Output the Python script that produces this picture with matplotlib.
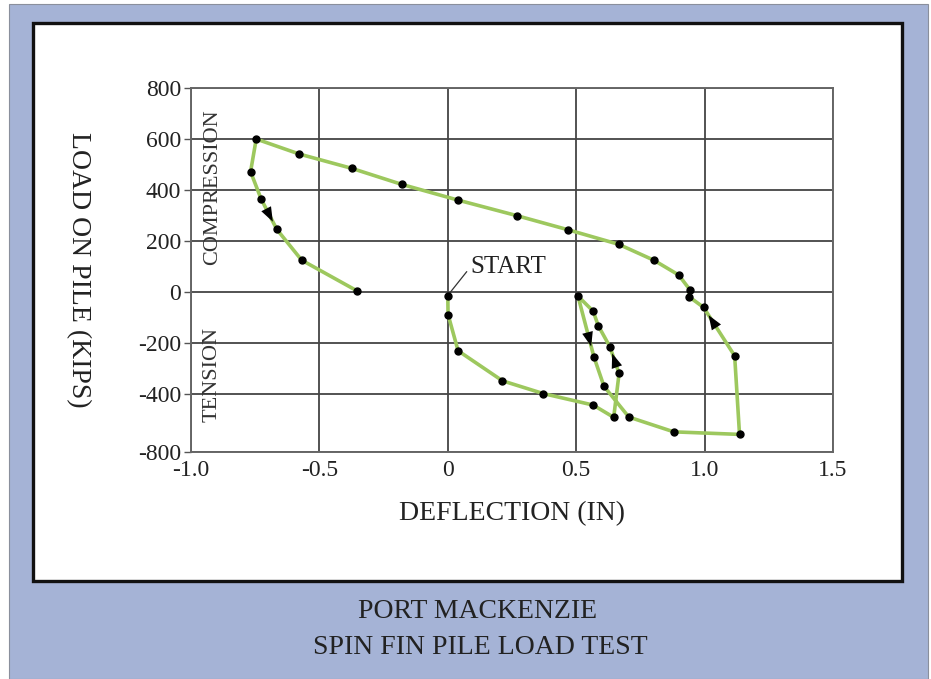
import matplotlib
matplotlib.use("Agg")
import matplotlib.pyplot as plt
from matplotlib.patches import Rectangle

# ---- data (deflection in inches, load in kips), in test order ----
deflection = [0.000, 0.001, 0.040, 0.213, 0.372, 0.566, 0.646, 0.667, 0.631, 0.586,
              0.566, 0.507, 0.569, 0.608, 0.705, 0.880, 1.136, 1.117, 0.996, 0.939,
              0.942, 0.899, 0.802, 0.666, 0.469, 0.271, 0.038, -0.179, -0.374, -0.578,
              -0.746, -0.768, -0.727, -0.666, -0.569, -0.354]
load = [-16, -88, -230, -348, -398, -443, -491, -319, -214, -132,
        -75, -16, -254, -369, -490, -548, -558, -250, -60, -18,
        10, 67, 125, 187, 244, 299, 361, 422, 485, 541,
        600, 472, 365, 246, 125, 5]

# direction arrows: (segment start index, tip fraction along segment)
arrow_segments = [(32, 0.75), (17, 0.84), (7, 0.75), (11, 0.83)]

x_ticks = [-1.0, -0.5, 0, 0.5, 1.0, 1.5]
x_tick_labels = ["-1.0", "-0.5", "0", "0.5", "1.0", "1.5"]
y_ticks = [800, 600, 400, 200, 0, -200, -400, -627]
y_tick_labels = ["800", "600", "400", "200", "0", "-200", "-400", "-800"]

title_lines = ["PORT MACKENZIE", "SPIN FIN PILE LOAD TEST"]

# ---- figure ----
W, H = 931, 679
fig = plt.figure(figsize=(W / 100, H / 100), dpi=100)
fig.patch.set_facecolor("white")
plt.rcParams["font.family"] = ["Liberation Serif", "DejaVu Serif"]

def fx(px):
    return px / W

def fy(py):
    return 1 - py / H

# blue background and white panel
fig.patches.append(Rectangle((fx(9), 0), fx(928) - fx(9), fy(4), transform=fig.transFigure,
                             facecolor="#a5b3d6", edgecolor="#8a8f9c", lw=0.8, zorder=0))
fig.patches.append(Rectangle((fx(33), fy(581)), fx(902) - fx(33), fy(23) - fy(581),
                             transform=fig.transFigure, facecolor="white",
                             edgecolor="#111111", lw=2.4, zorder=1))

ax = fig.add_axes([fx(191), fy(452), fx(833) - fx(191), fy(88) - fy(452)])
ax.set_zorder(2)
ax.set_facecolor("white")
ax.set_xlim(-1.0, 1.5)
ax.set_ylim(-627, 800)

ax.set_xticks(x_ticks)
ax.set_xticklabels(x_tick_labels)
ax.set_yticks(y_ticks)
ax.set_yticklabels(y_tick_labels)
ax.tick_params(axis="x", length=0, pad=6, labelsize=17, colors="#222222")
ax.tick_params(axis="y", length=5, width=1.0, pad=2, labelsize=17, colors="#555555",
               labelcolor="#222222")
ax.grid(True, color="#444444", lw=1.3)
ax.set_axisbelow(True)
for s in ax.spines.values():
    s.set_color("#666666")
    s.set_linewidth(1.4)

ax.plot(deflection, load, color="#9dc85e", lw=2.6, zorder=3, solid_joinstyle="round")
ax.plot(deflection, load, ls="none", marker="o", ms=5, color="black", zorder=4)

for i, f in arrow_segments:
    x0, y0 = deflection[i], load[i]
    x1, y1 = deflection[i + 1], load[i + 1]
    tip = (x0 + f * (x1 - x0), y0 + f * (y1 - y0))
    g = f - 0.45
    tail = (x0 + g * (x1 - x0), y0 + g * (y1 - y0))
    ax.annotate("", xy=tip, xytext=tail,
                arrowprops=dict(arrowstyle="-|>,head_length=0.75,head_width=0.28",
                                mutation_scale=14, color="black", lw=0,
                                shrinkA=0, shrinkB=0), zorder=5)

ax.annotate("START", xy=(deflection[0] + 0.004, load[0] + 8), xytext=(0.088, 98),
            fontsize=18, color="#222222", va="center", ha="left",
            arrowprops=dict(arrowstyle="-", color="#333333", lw=0.9,
                            shrinkA=1, shrinkB=0, relpos=(0, 0.5)))

ax.text(-0.917, 412, "COMPRESSION", rotation=90, fontsize=16, color="#333333",
        ha="center", va="center")
ax.text(-0.917, -325, "TENSION", rotation=90, fontsize=16, color="#333333",
        ha="center", va="center")

ax.set_xlabel("DEFLECTION (IN)", fontsize=20, color="#222222", labelpad=14)
ax.set_ylabel("LOAD ON PILE (KIPS)", fontsize=20, color="#222222", rotation=-90,
              labelpad=52)

fig.text(fx(478), fy(612), title_lines[0], fontsize=20, ha="center", va="center",
         color="#222222")
fig.text(fx(480), fy(647), title_lines[1], fontsize=20, ha="center", va="center",
         color="#222222")

fig.savefig("out.png", dpi=100, facecolor=fig.get_facecolor())
